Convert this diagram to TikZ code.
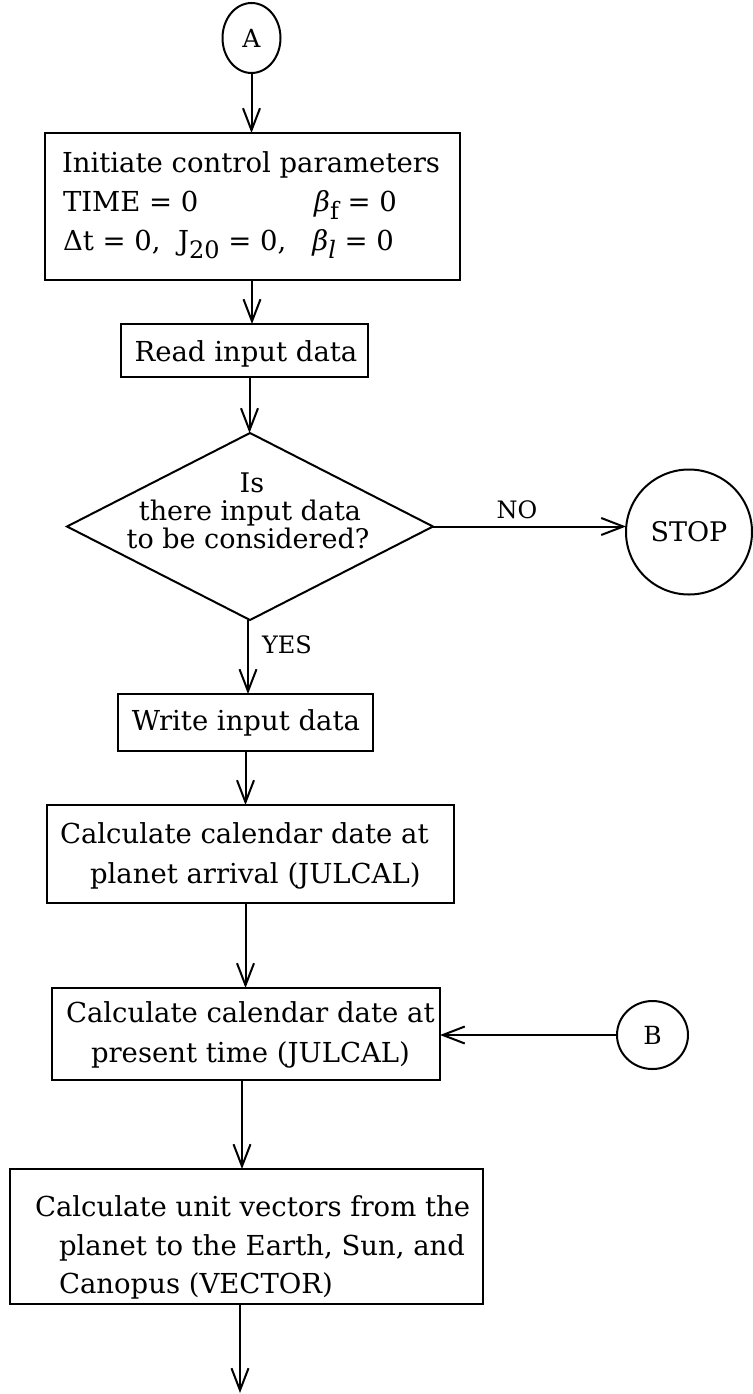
\documentclass[tikz,border=0pt]{standalone}
\usepackage{fontspec}
\setmainfont{DejaVu Serif}
\usetikzlibrary{arrows.meta,shapes.geometric}
\newcommand{\lowsub}[1]{\raisebox{-0.32em}{\fontsize{24}{24}\selectfont #1}}
\begin{document}
\begin{tikzpicture}[x=1pt,y=-1pt,
  every node/.style={inner sep=0pt, outer sep=0pt},
  mainfont/.style={font=\fontsize{27.5}{36}\selectfont},
  dfont/.style={font=\fontsize{27}{30}\selectfont},
  smallfont/.style={font=\fontsize{24}{28}\selectfont},
  box/.style={draw, rectangle, line width=2pt},
  conncircle/.style={draw, ellipse, line width=2pt, font=\fontsize{25}{28}\selectfont},
  decision/.style={draw, diamond, line width=2pt},
  txt/.style={mainfont, anchor=base west},
  rtxt/.style={mainfont, anchor=base east},
  ctxt/.style={mainfont, anchor=base},
  dtxt/.style={dfont, anchor=base},
  conn/.style={line width=2pt, -{Straight Barb[length=22pt,width=17pt,line width=2pt]}}
]
\useasboundingbox (0,0) rectangle (752,1394);

% connectors A, B and terminal STOP
\node[conncircle, minimum width=58pt, minimum height=70pt] (A) at (251.5,38) {A};
\node[conncircle, minimum width=71pt, minimum height=68pt] (B) at (652.5,1035) {B};
\node[draw, ellipse, line width=2pt, minimum width=126pt, minimum height=125pt, font=\fontsize{27}{30}\selectfont] (stop) at (689,532) {STOP};

% box 1
\node[box, minimum width=415pt, minimum height=147pt] (b1) at (252.5,206.5) {};
\node[txt] (t11) at (62,172) {Initiate control parameters};
\node[txt] (t12) at (63,211) {TIME = 0};
\node[rtxt] (t13) at (397,211) {{\itshape β}\lowsub{f} = 0};
\node[txt] (t14) at (63,250) {Δt = 0,};
\node[txt] (t15) at (178,250) {J\lowsub{20} = 0,};
\node[rtxt] (t16) at (394,250) {{\itshape β}\lowsub{\itshape l} = 0};

% box 2
\node[box, minimum width=247pt, minimum height=53pt] (b2) at (244.5,350.5) {};
\node[ctxt] (t2) at (246,361) {Read input data};

% decision
\node[decision, minimum width=366pt, minimum height=187pt] (d) at (250,526.5) {};
\node[dtxt] (td1) at (252,492) {Is};
\node[dtxt] (td2) at (250,520) {there input data};
\node[dtxt] (td3) at (248,548) {to be considered?};

% box 3
\node[box, minimum width=255pt, minimum height=57pt] (b3) at (245.5,722.5) {};
\node[ctxt] (t3) at (246,730) {Write input data};

% box 4
\node[box, minimum width=407pt, minimum height=98pt] (b4) at (250.5,854) {};
\node[txt] (t41) at (60,843) {Calculate calendar date at};
\node[txt] (t42) at (90,883) {planet arrival (JULCAL)};

% box 5
\node[box, minimum width=388pt, minimum height=92pt] (b5) at (246,1034) {};
\node[txt] (t51) at (66,1022) {Calculate calendar date at};
\node[txt] (t52) at (91,1062) {present time (JULCAL)};

% box 6
\node[box, minimum width=473pt, minimum height=135pt] (b6) at (246.5,1236.5) {};
\node[txt] (t61) at (35,1216) {Calculate unit vectors from the};
\node[txt] (t62) at (59,1255) {planet to the Earth, Sun, and};
\node[txt] (t63) at (59,1293) {Canopus (VECTOR)};

\coordinate (end) at (240,1393);

% connectors
\draw[conn] (A.south) -- (A.south |- b1.north);
\draw[conn] ([xshift=-0.5pt]b1.south) -- ([xshift=-0.5pt]b1.south |- b2.north);
\draw[conn] ([xshift=5pt]b2.south) -- ([xshift=5pt]b2.south |- d.north);
\draw[conn] (d.east) -- (d.east -| stop.west);
\node[smallfont, anchor=base] (no) at (517,518) {NO};
\draw[conn] ([xshift=-2pt]d.south) -- ([xshift=-2pt]d.south |- b3.north);
\node[smallfont, anchor=base west] (yes) at (262,653) {YES};
\draw[conn] (b3.south) -- (b3.south |- b4.north);
\draw[conn] ([xshift=-5pt]b4.south) -- ([xshift=-5pt]b4.south |- b5.north);
\draw[conn] (B.west) -- (B.west -| b5.east);
\draw[conn] ([xshift=-4pt]b5.south) -- ([xshift=-4pt]b5.south |- b6.north);
\draw[conn] (b6.south -| end) -- (end);
\end{tikzpicture}
\end{document}
